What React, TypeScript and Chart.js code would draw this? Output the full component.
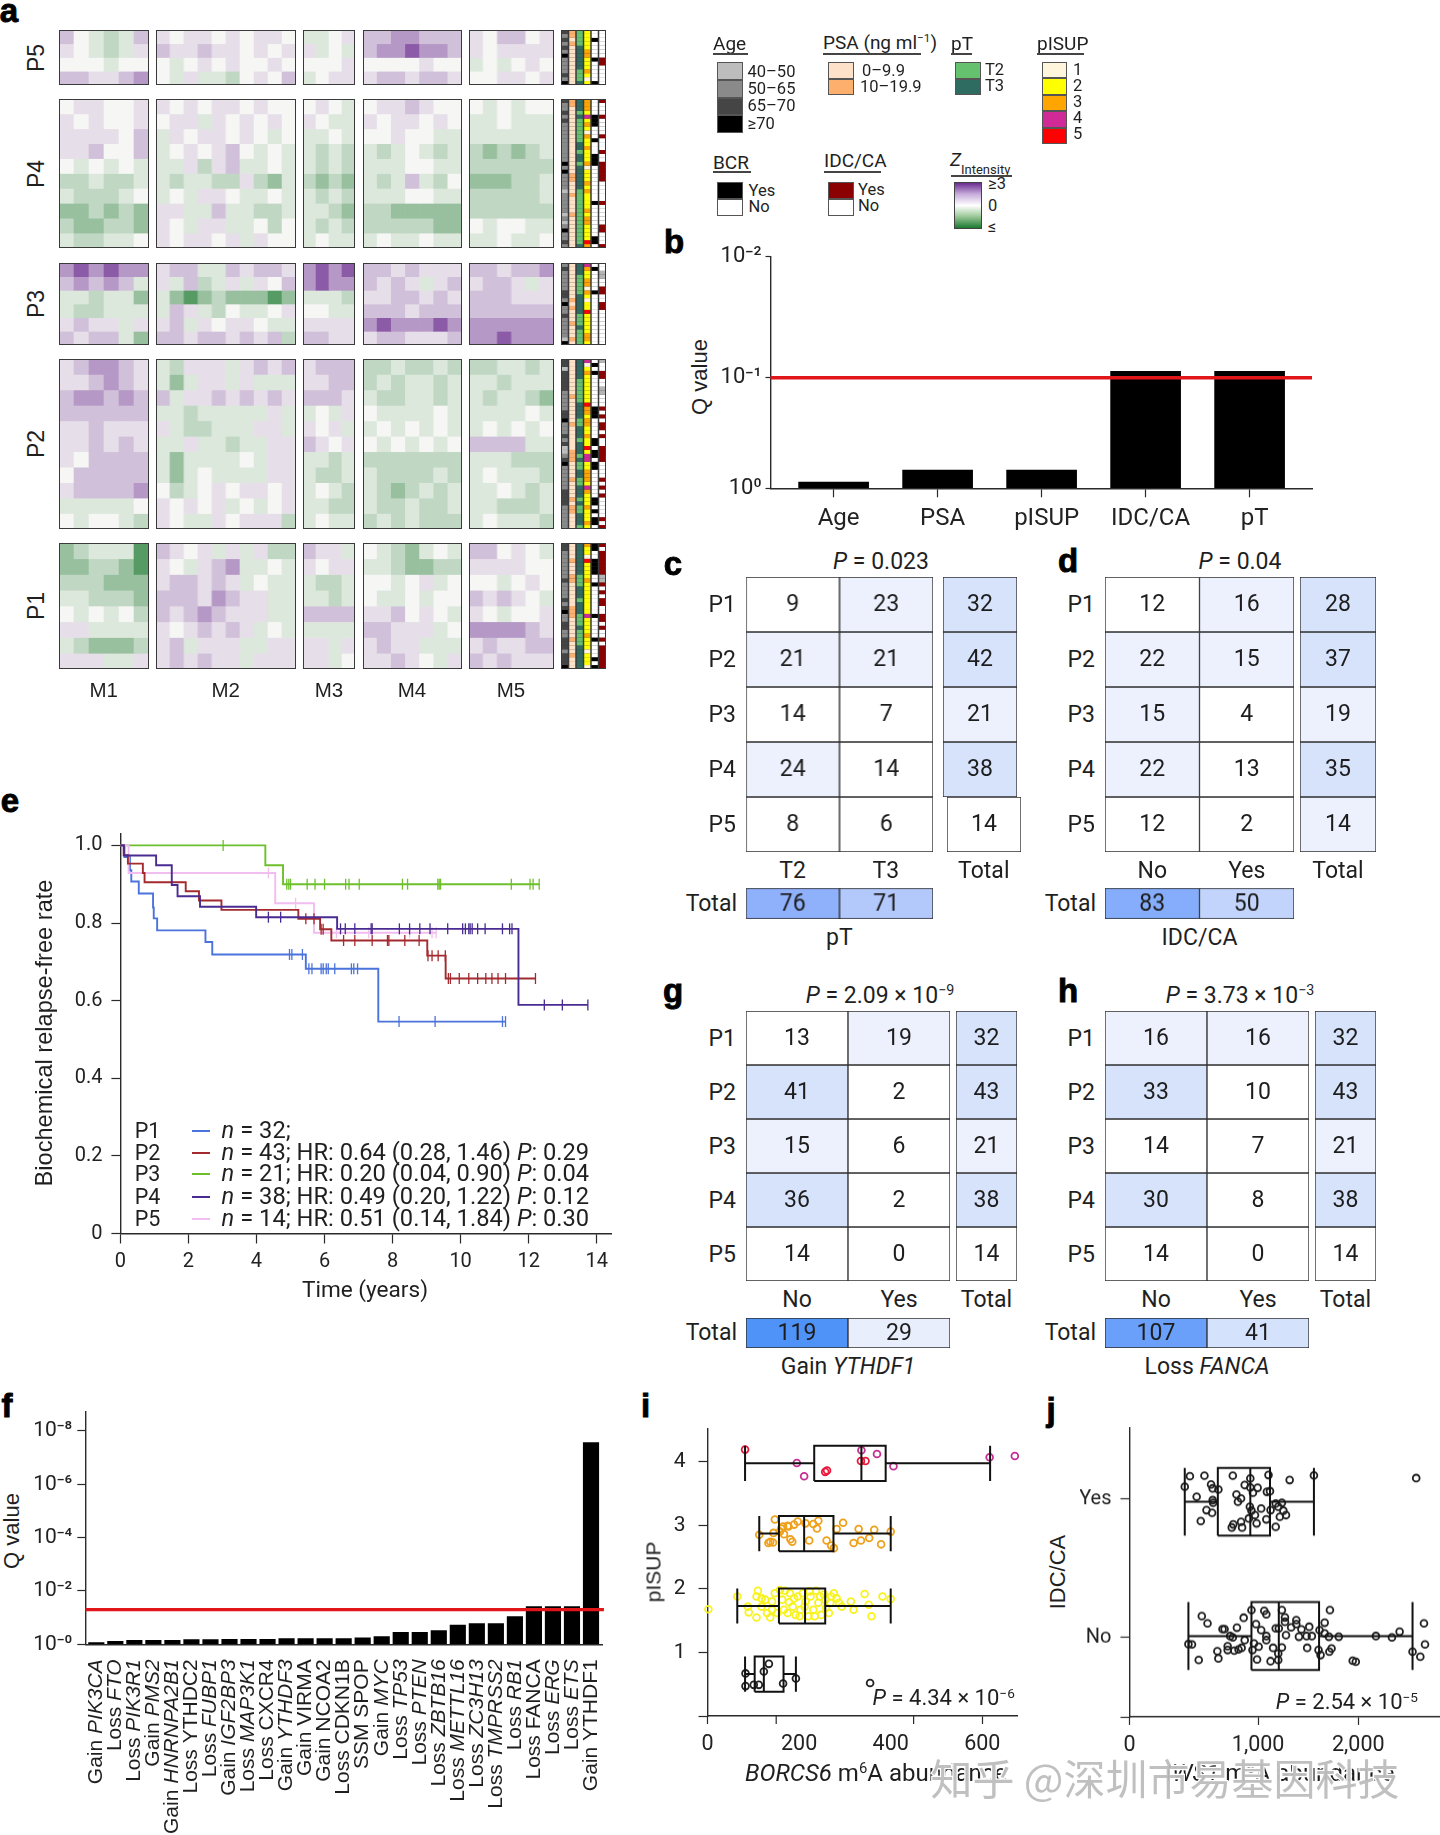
import React, { useEffect, useRef } from 'react';
import { Chart, registerables } from 'chart.js';
Chart.register(...registerables);

/* ---------- panel a: heat-map tones per block (rows by columns) ---------- */
const MODULES = ['M1', 'M2', 'M3', 'M4', 'M5'];
const Z_CODE: Record<string, number> = { p: 2.3, q: 1.4, r: 0.8, s: 0.35, '.': 0, t: -0.35, u: -0.75, v: -1.3, w: -2.2 };
const P5_M1 = ['r.tutr', 's.tuts', '...t..', 'rrssrq'];
const P5_M2 = ['s.ss.s.ss.', 'rssrss.s.s', '.t.s.s..s.', '.tsttu.s.r'];
const P5_M3 = ['tt.s', 'st.t', '...s', 't.ss'];
const P5_M4 = ['rrqqrrr', 'rqqpqqr', '....s..', 'srrsrrs'];
const P5_M5 = ['s.rr.s', 's.ssss', 't.t.s.', '..ss.s'];
const P4_M1 = ['.ss..s', 's.s..s', 'ssss.r', 'ssr..r', '.t.t.t', 'uutuut', 'tuuut.', 'vvuvuv', 'uvvuuv', 'tuutt.'];
const P4_M2 = ['s.s.ss.s..', '.ssts.s.s.', 'ts.ss.s.t.', 't.s.sr.t.t', 'ttsusrtt.t', 'tuttuusuvt', 't.tss.tt.t', 'ssttrttuut', 's.tsstt.u.', 's.ss.sts..'];
const P4_M3 = ['.s.t', 's.tt', 'tt.t', 'tutu', 'tutu', 'uvuv', 'tutu', 'ttuv', 'tutu', 't.tt'];
const P4_M4 = ['.ssrs..', 's.ss.s.', '..s..tt', 'tut.tut', 'ttt..tt', 'tutrtu.', 'ttt..tt', 'uuvvvvv', 'uuuuuvv', 't.tt.tt'];
const P4_M5 = ['.t.t..', 'tt.ttt', 'tttttt', 'uvuvut', 'uuuuuu', 'vvvuut', 'uuuuut', 'uuuuuu', '.t..tt', 'tt.tt.'];
const P3_M1 = ['qpqpqq', 'rqrqrt', 'ttuttv', 'tuuttt', 'srssts', 'rsrrtv'];
const P3_M2 = ['srrttrsrrs', 'strutsts.r', 'tvwvuvvvwv', 'trstu.tt.s', 'srts.ss.tt', 'rrsrrsrsru'];
const P3_M3 = ['qpqp', 'qpqq', 'tttu', '..tt', 'ssss', 'rrss'];
const P3_M4 = ['rrsrsss', 'rsrstsr', 'ssrrsrs', 'rrrsrrr', 'qpqqqpq', 'srrsssr'];
const P3_M5 = ['rrsrrq', 'srrsts', 'rrrsss', 'rrrrrr', 'qqqqqq', 'qqpqqq'];
const P2_M1 = ['srqqrs', 'ssrqrs', 'rqqrqr', 'rrrrrr', 'ssrsss', 'ssrsrs', 's.rrrr', '.rrrrr', 'srrrrq', 'ttttt.', '.t..tu'];
const P2_M2 = ['tussstsrsr', 'tvtsststtt', 'rtssrsrsrs', 'ttutttttst', 'stuutttsst', 'ttsttuttss', 'tvtttt.tss', 'tvt.ttttss', '.ut.s.ss.s', 's.s.st.t.s', 's.tts.sssu'];
const P2_M3 = ['srrr', 'ssrr', 'rrrs', 't.ts', 's.st', 'rs.s', 'ttut', 'tuut', 't.tu', 'ttuu', 't.tt'];
const P2_M4 = ['uutuutu', 'ututtut', 'tuuttut', '.tttt.t', 't.t.t.t', '.t.t.t.', 'uuuuuuu', 'tuuuutu', 'tuvutut', 'tuutuut', 'ututuuu'];
const P2_M5 = ['uuttut', 'ttuttt', 'tuttuv', 'tttt.t', 't.t.t.', 'rrrrtt', 'tttuuu', 't.tttu', 'tt.tut', 'ttuuut', 't.tttu'];
const P1_M1 = ['vutttw', 'vvuuvw', 'uuuvvv', 'ttuuuv', '.t.t.u', 'sstttt', 'tuvvvu', 'ssstts'];
const P1_M2 = ['rs.ststsuu', 's.tsrqtt.t', 'srrsrst.tt', 'rrrsqrsstt', 'rsrqrssstt', 's.srsrst.t', 'srtsssttss', 'srsrsstsss'];
const P1_M3 = ['rsst', 's.ss', 'tuut', 'ttut', 'rrrr', 'tttt', 'ssts', 'sst.'];
const P1_M4 = ['.tuvt.t', 'ttuvvuu', '..t.st.', '.tt.t..', 'ssr.s.t', 'rrssst.', 'srssttt', 'ssrs.ts'];
const P1_M5 = ['rr.s.t', 'ssss..', '..t.s.', 'rsrs.t', 's.t..s', 'qqqqrs', 'srssrr', 'rsrsss'];
const HEAT_P5 = [P5_M1, P5_M2, P5_M3, P5_M4, P5_M5];
const HEAT_P4 = [P4_M1, P4_M2, P4_M3, P4_M4, P4_M5];
const HEAT_P3 = [P3_M1, P3_M2, P3_M3, P3_M4, P3_M5];
const HEAT_P2 = [P2_M1, P2_M2, P2_M3, P2_M4, P2_M5];
const HEAT_P1 = [P1_M1, P1_M2, P1_M3, P1_M4, P1_M5];

/* annotation tracks, one character per patient: Age, PSA, pT, pISUP, BCR, IDC/CA */
const ANN_P5 = ['cbcbcbdbbbbcbd', '11010000000000', '22223333332223', '22222332223212', 'nnynnnnynnnnny', 'nnnnnnnyynnnnn'];
const ANN_P4 = ['cbbcbcbbbbbbbbbbdbdbbbbabbbbbababdbbcb', '11000000000000000001100010000100000000', '33323222222332332333333222222222222223', '33324232132232223122232322223233222253', 'nnnnyyynnnynnnyyynnnnnnnnnynnnnnnnnyyn', 'ynnnynnnnynnnynnyyyyynnnnnynnnnnyynnny'];
const ANN_P3 = ['bcbbbbbccbdbbcbbbbbad', '000000000101000100010', '333222223333322232222', '432233132122522222332', 'nynnnnnynnnnnnnnnnnnn', 'nnaannyynnyynnnnnnnnn'];
const ANN_P2 = ['ccacccccbbbbbccdbbbcbcaabcdbbbbbbccccbbbbbb', '0000000001000000100000011100001000010110000', '3333322222233332233323332322332233323223332', '4123222222253323322322524422333243222322232', 'nynynnnnnnnnyyynnnnnyynyynyynnnnnnnyynynyyn', 'annyynnaannnynynyynynnyyyynnnnynynynnnnnyny'];
const ANN_P1 = ['ccbbbbbbbcbbbbcbcdbbccbbcccbcccd', '00001000110000001110000010001000', '33333333222333233322232222333333', '32215222232222222242222322212221', 'yynnyyyynnynnnnnnnynnnnnynnnnyny', 'ynyyyyyyaaynynyynnyynynnynyyyyyy'];

/* ---------- panel b ---------- */
const B_CATS = ['Age', 'PSA', 'pISUP', 'IDC/CA', 'pT'];
const B_Q = [0.877, 0.684, 0.684, 0.0875, 0.0875];
const B_THRESHOLD = 0.1;
const B_TICKS = [1, 0.1, 0.00798];
const B_TICK_LABELS = ['10⁰', '10⁻¹', '10⁻²'];

/* ---------- contingency tables ---------- */
const ROWS_P = ['P1', 'P2', 'P3', 'P4', 'P5'];
const C_VALUES = [[9, 23], [21, 21], [14, 7], [24, 14], [8, 6]];
const C_TOTALS = [32, 42, 21, 38, 14];
const C_BOTTOM = [76, 71];
const C_COLS = ['T2', 'T3'];
const D_VALUES = [[12, 16], [22, 15], [15, 4], [22, 13], [12, 2]];
const D_TOTALS = [28, 37, 19, 35, 14];
const D_BOTTOM = [83, 50];
const D_COLS = ['No', 'Yes'];
const G_VALUES = [[13, 19], [41, 2], [15, 6], [36, 2], [14, 0]];
const G_TOTALS = [32, 43, 21, 38, 14];
const G_BOTTOM = [119, 29];
const H_VALUES = [[16, 16], [33, 10], [14, 7], [30, 8], [14, 0]];
const H_TOTALS = [32, 43, 21, 38, 14];
const H_BOTTOM = [107, 41];
const YESNO = ['No', 'Yes'];

/* ---------- panel e: Kaplan-Meier steps [time, survival] and censor marks ---------- */
const KM_P1 = [[0, 1], [0.12, 0.97], [0.28, 0.936], [0.32, 0.907], [0.54, 0.876], [0.96, 0.84], [0.98, 0.812], [1.08, 0.781], [2.5, 0.751], [2.7, 0.719], [5.45, 0.682], [7.58, 0.546], [11.32, 0.546]];
const KM_P2 = [[0, 1], [0.1, 0.975], [0.22, 0.953], [0.66, 0.929], [0.71, 0.905], [1.92, 0.882], [2.31, 0.858], [2.97, 0.834], [5.23, 0.811], [5.87, 0.784], [6.2, 0.755], [9.02, 0.716], [9.56, 0.657], [12.2, 0.657]];
const KM_P3 = [[0, 1], [4.26, 0.949], [4.78, 0.9], [12.31, 0.9]];
const KM_P4 = [[0, 1], [0.1, 0.974], [1.05, 0.949], [1.51, 0.898], [1.68, 0.869], [2.34, 0.842], [3.99, 0.815], [6.37, 0.785], [11.7, 0.589], [13.74, 0.589]];
const KM_P5 = [[0, 1], [0.24, 0.929], [4.55, 0.851], [5.69, 0.775], [9.28, 0.775]];
const CENS_P1: [number, number[]][] = [[0.719, [4.97, 5.04, 5.35]], [0.682, [5.54, 5.63, 5.9, 5.96, 6.05, 6.11, 6.3, 6.79, 6.86, 6.97]], [0.546, [8.19, 9.25, 11.23, 11.32]]];
const CENS_P2: [number, number[]][] = [[0.811, [5.45, 5.69]], [0.784, [5.9, 5.96]], [0.755, [6.56, 6.89, 7.4, 7.85, 7.89, 8.36, 8.78]], [0.716, [9.04, 9.16, 9.34, 9.55]], [0.657, [9.64, 9.7, 9.96, 10.24, 10.5, 10.74, 10.92, 11.1, 11.32, 12.2]]];
const CENS_P3: [number, number[]][] = [[1, [3.02]], [0.9, [4.89, 4.95, 5.0, 5.49, 5.72, 6.0, 6.62, 6.72, 7.02, 8.29, 8.44, 9.33, 9.37, 9.41, 11.49, 12.04, 12.13, 12.31]]];
const CENS_P4: [number, number[]][] = [[0.815, [4.35, 4.71]], [0.785, [6.47, 6.61, 6.89, 7.37, 7.4, 8.2, 8.5, 8.8, 9.1, 9.62, 10.06, 10.14, 10.24, 10.28, 10.34, 10.5, 10.72, 11.23, 11.44, 11.51]], [0.589, [12.46, 12.99, 13.74]]];
const CENS_P5: [number, number[]][] = [[0.929, [4.35]], [0.851, [5.15]], [0.775, [6.35, 7.3, 8.5, 9.16, 9.28]]];
const E_LEGEND = ['P1', 'P2', 'P3', 'P4', 'P5'];
const E_LEGEND_N = ['= 32;', '= 43; HR: 0.64 (0.28, 1.46) ', '= 21; HR: 0.20 (0.04, 0.90) ', '= 38; HR: 0.49 (0.20, 1.22) ', '= 14; HR: 0.51 (0.14, 1.84) '];
const E_LEGEND_P = ['', ': 0.29', ': 0.04', ': 0.12', ': 0.30'];

/* ---------- panel f ---------- */
const F_PREFIX = ['Gain', 'Loss', 'Loss', 'Gain', 'Gain', 'Loss', 'Loss', 'Gain', 'Loss', 'Loss', 'Gain', 'Gain', 'Gain', 'Loss', 'SSM', 'Gain', 'Loss', 'Loss', 'Loss', 'Loss', 'Loss', 'Loss', 'Loss', 'Loss', 'Loss', 'Loss', 'Gain'];
const F_GENES = ['PIK3CA', 'FTO', 'PIK3R1', 'PMS2', 'HNRNPA2B1', 'YTHDC2', 'FUBP1', 'IGF2BP3', 'MAP3K1', 'CXCR4', 'YTHDF3', 'VIRMA', 'NCOA2', 'CDKN1B', 'SPOP', 'MYC', 'TP53', 'PTEN', 'ZBTB16', 'METTL16', 'ZC3H13', 'TMPRSS2', 'RB1', 'FANCA', 'ERG', 'ETS', 'YTHDF1'];
const F_UPRIGHT = ['YTHDC2', 'CXCR4', 'VIRMA', 'NCOA2', 'CDKN1B', 'SPOP', 'FANCA', 'YTHDF1'];
const F_MINUS_LOG_Q = [0.06, 0.11, 0.15, 0.15, 0.15, 0.18, 0.18, 0.19, 0.19, 0.19, 0.21, 0.21, 0.21, 0.21, 0.24, 0.29, 0.45, 0.45, 0.51, 0.72, 0.78, 0.78, 1.04, 1.41, 1.41, 1.41, 7.56];
const F_THRESHOLD = 0.05;
const F_TICKS = [1, 1e-2, 1e-4, 1e-6, 1e-8];
const F_TICK_LABELS = ['10⁻⁰', '10⁻²', '10⁻⁴', '10⁻⁶', '10⁻⁸'];

/* ---------- panel i: [min, q1, median, q3, max, centre] and points ---------- */
const I_BOX_1 = [82, 103, 123, 166, 193, 0.66];
const I_BOX_2 = [65, 156, 213, 257, 400, 1.73];
const I_BOX_3 = [113, 156, 211, 275, 400, 2.87];
const I_BOX_4 = [82, 233, 336, 389, 617, 3.974];
const I_GRADE1 = [[83, .67], [83, .47], [101, .49], [112, .49], [123, .70], [134, .82], [165, .51], [193, .59], [355, .52]];
const I_GRADE2 = [[2, 1.68], [65, 1.88], [90, 1.63], [88, 1.72], [107, 1.55], [110, 1.97], [107, 1.88], [118, 1.72], [126, 1.83], [137, 1.55], [141, 1.80], [147, 1.93], [152, 1.62], [163, 1.83], [169, 1.97], [175, 1.62], [180, 1.93], [186, 1.72], [192, 1.59], [197, 1.88], [203, 1.67], [208, 1.93], [214, 1.80], [220, 1.57], [225, 1.88], [231, 1.67], [237, 1.97], [242, 1.78], [248, 1.59], [254, 1.91], [259, 1.70], [265, 1.62], [270, 1.88], [276, 1.93], [282, 1.85], [287, 1.78], [293, 1.72], [313, 1.80], [319, 1.67], [343, 1.92], [352, 1.75], [358, 1.57], [382, 1.88], [400, 1.84], [118, 1.85], [130, 1.62], [141, 1.67], [158, 1.98], [167, 1.67], [178, 1.79], [189, 1.85], [201, 1.57], [212, 1.72], [223, 1.96], [234, 1.57], [246, 1.88], [257, 1.83], [268, 1.78]];
const I_GRADE3 = [[113, 2.85], [133, 2.72], [143, 2.73], [144, 2.88], [147, 3.09], [165, 2.98], [167, 2.86], [175, 2.99], [181, 2.78], [185, 2.74], [189, 3.01], [197, 3.06], [214, 3.03], [222, 2.76], [231, 3.02], [239, 2.95], [242, 3.07], [260, 2.76], [270, 2.68], [276, 2.64], [282, 2.94], [296, 3.04], [319, 2.72], [330, 2.94], [335, 2.76], [353, 2.80], [364, 2.93], [379, 2.70], [400, 2.90], [158, 2.90], [161, 2.95], [177, 2.98], [137, 2.74]];
const I_GRADE4 = [[336, 4.18], [370, 4.12], [195, 3.98], [211, 3.77], [406, 3.93], [616, 4.07], [671, 4.09]];
const I_GRADE5 = [[82, 4.19], [257, 3.84], [261, 3.86], [335, 4.01], [345, 4.01]];

/* ---------- panel j ---------- */
const J_BOX_YES = [483, 772, 1056, 1228, 1612, 0.978];
const J_BOX_NO = [515, 1066, 1305, 1657, 2474, 0.01];
const J_YES = [[483, 1.087], [528, 1.163], [655, 1.166], [713, 1.103], [727, 1.075], [777, 1.067], [587, 1.014], [727, .990], [731, .971], [673, .918], [722, .899], [623, .839], [903, 1.166], [1056, 1.147], [1215, 1.171], [1400, 1.135], [1612, 1.168], [2506, 1.149], [1007, 1.099], [1056, 1.082], [1120, 1.079], [1079, 1.043], [1201, 1.050], [1228, 1.055], [935, 1.031], [975, 1.002], [948, .978], [1151, .930], [1052, .942], [1066, .914], [1097, .882], [1043, .858], [1196, .851], [1111, .822], [907, .815], [894, .793], [975, .834], [984, .793], [1278, .798], [1278, .966], [1332, .971], [1300, .942], [1233, .918], [1345, .914], [1314, .870], [1368, .882]];
const J_NO = [[515, -.048], [546, -.05], [605, -.163], [632, .154], [682, .101], [768, -.099], [777, -.151], [813, .06], [831, .06], [858, -.063], [858, -.091], [880, .01], [903, 0], [939, .07], [916, -.096], [953, -.087], [980, -.075], [998, .142], [1007, -.019], [1066, .197], [1088, -.043], [1075, -.091], [1106, .096], [1129, -.067], [1115, -.159], [1178, .192], [1196, .166], [1151, .053], [1196, .01], [1196, -.019], [1255, -.075], [1233, -.171], [1300, -.163], [1278, .065], [1305, .065], [1332, .197], [1359, .144], [1359, .113], [1458, .125], [1458, .096], [1332, -.072], [1300, -.115], [1368, .017], [1413, .072], [1481, .005], [1503, .058], [1548, .01], [1571, .077], [1594, .01], [1553, -.075], [1661, .053], [1652, -.091], [1670, -.127], [1706, .106], [1752, .197], [1706, .029], [1743, .005], [1829, .005], [1766, -.079], [1747, -.103], [1951, -.168], [1978, -.175], [2154, .01], [2294, 0], [2361, .041], [2474, -.103], [2542, -.139], [2574, .101], [2583, -.05]];

/* ---------- styles ---------- */
const INK = '#2a2a2a';
const SANS = '"Liberation Sans", Arial, sans-serif';
const ROBOTO = 'Roboto, "Liberation Sans", sans-serif';
const RED_LINE = '#e0161b';
const KM_COLORS = { p1: '#4b73dc', p2: '#a32a2e', p3: '#6cc02c', p4: '#4a2b92', p5: '#f2bdf0' };
const TRACK_COLORS: Record<string, string>[] = [
  { a: '#bdbdbd', b: '#8a8a8a', c: '#454545', d: '#000000' },
  { '0': '#fde2c9', '1': '#fdb06e' },
  { '2': '#66c16f', '3': '#2e6b60' },
  { '1': '#fff5dd', '2': '#ffff00', '3': '#ffa500', '4': '#cf2a96', '5': '#ff0000' },
  { y: '#000000', n: '#ffffff' },
  { y: '#8b0000', n: '#ffffff', a: '#b5b5b5' },
];
const TABLE_TONES = ['#ffffff', '#edf1fd', '#d7e3fb'];

const lerpHex = (a: number[], b: number[], t: number) => `rgb(${a.map((v, i) => Math.round(v + (b[i] - v) * t)).join(',')})`;
const zColor = (z: number) => (z >= 0 ? lerpHex([246, 246, 244], [106, 44, 145], z / 3) : lerpHex([246, 246, 244], [29, 122, 48], -z / 3));

const tableTone = (v: number, levels: number[]) => {
  if (v >= levels[1]) return TABLE_TONES[2];
  if (v >= levels[0]) return TABLE_TONES[1];
  return TABLE_TONES[0];
};

function matrixConfig(colors: string[][], opts: any = {}) {
  const nCols = colors[0].length;
  const plugins: any[] = [];
  if (opts.values) {
    plugins.push({
      id: 'cellText',
      afterDatasetsDraw(chart: any) {
        const c = chart.ctx;
        c.save();
        c.fillStyle = '#1d1d1d';
        c.font = `23px ${ROBOTO}`;
        c.textAlign = 'center';
        c.textBaseline = 'middle';
        opts.values.forEach((row: number[], r: number) => {
          const meta = chart.getDatasetMeta(r);
          row.forEach((v: number, k: number) => {
            const el = meta.data[k];
            c.fillText(String(v), el.x, (el.y + el.base) / 2 + 1);
          });
        });
        c.restore();
      },
    });
  }
  return {
    type: 'bar',
    data: {
      labels: Array.from({ length: nCols }, (_, i) => String(i)),
      datasets: colors.map((row) => ({
        data: row.map(() => 1),
        backgroundColor: row,
        borderColor: opts.border || 'transparent',
        borderWidth: opts.border ? 1 : 0,
        borderSkipped: false,
        barPercentage: opts.barPct ?? 1,
        categoryPercentage: 1,
      })),
    },
    options: {
      layout: { padding: opts.pad ?? 0 },
      scales: {
        x: { stacked: true, display: false },
        y: { stacked: true, display: false, reverse: true, min: 0, max: colors.length },
      },
    },
    plugins,
  };
}

function axis(o: any) {
  const horizontal = o.position === 'bottom';
  return {
    type: o.type || 'linear',
    position: o.position,
    min: o.min,
    max: o.max,
    reverse: !!o.reverse,
    offset: false,
    afterBuildTicks: (s: any) => { s.ticks = o.ticks.map((value: number) => ({ value })); },
    afterFit: (s: any) => {
      if (horizontal) s.height = o.size; else s.width = o.size;
      s.paddingTop = 0; s.paddingBottom = 0; s.paddingLeft = 0; s.paddingRight = 0;
    },
    grid: {
      offset: false,
      drawOnChartArea: false,
      drawTicks: o.drawTicks !== false,
      tickLength: o.tickLength ?? 9,
      tickColor: o.tickColor || INK,
      tickWidth: 1.2,
    },
    border: { display: true, color: INK, width: 1.4 },
    ticks: {
      display: o.showLabels !== false,
      autoSkip: false,
      maxRotation: 0,
      minRotation: 0,
      padding: o.padding ?? 6,
      labelOffset: o.labelOffset ?? 0,
      color: '#222',
      font: { family: ROBOTO, size: o.fontSize ?? 20 },
      callback: (_: any, i: number) => (o.labels ? o.labels[i] : ''),
    },
  };
}

function boxLine(b: number[], half: number) {
  const [lo, q1, med, q3, hi, cy] = b;
  const gap = { x: NaN, y: NaN };
  const p = (x: number, y: number) => ({ x, y });
  return [
    p(lo, cy - half), p(lo, cy + half), gap,
    p(lo, cy), p(q1, cy), gap,
    p(q3, cy), p(hi, cy), gap,
    p(hi, cy - half), p(hi, cy + half), gap,
    p(q1, cy - half), p(q3, cy - half), p(q3, cy + half), p(q1, cy + half), p(q1, cy - half), gap,
    p(med, cy - half), p(med, cy + half),
  ];
}
const boxDataset = (b: number[], half: number) => ({
  data: boxLine(b, half), showLine: true, pointRadius: 0, borderColor: '#111', borderWidth: 2, spanGaps: false, clip: false,
});
const dots = (pts: number[][], color: string) => ({
  data: pts.map(([x, y]) => ({ x, y })), showLine: false, pointRadius: 3.4, pointBorderWidth: 1.8,
  pointBorderColor: color, pointBackgroundColor: 'transparent', clip: false,
});

function kmSets(steps: number[][], cens: [number, number[]][], color: string, order: number) {
  return [
    { type: 'line', data: steps.map(([x, y]) => ({ x, y })), stepped: 'before', borderColor: color, borderWidth: 1.9, pointRadius: 0, order, clip: false },
    {
      type: 'scatter',
      data: cens.flatMap(([y, ts]) => ts.map((x) => ({ x, y }))),
      pointStyle: 'line', rotation: 90, pointRadius: 5.5, pointBorderColor: color, pointBorderWidth: 1.3, order, clip: false,
    },
  ];
}

function ChartBox({ x, y, w, h, config, bg, outline }: any) {
  const ref = useRef<HTMLCanvasElement>(null);
  useEffect(() => {
    const base = config.options || {};
    const chart = new Chart(ref.current as any, {
      ...config,
      options: {
        ...base,
        responsive: false,
        animation: false,
        events: [],
        layout: { autoPadding: false, ...(base.layout || {}) },
        plugins: { legend: { display: false }, tooltip: { enabled: false }, ...(base.plugins || {}) },
      },
    } as any);
    return () => chart.destroy();
  }, []);
  return (
    <canvas
      ref={ref}
      width={w}
      height={h}
      style={{ position: 'absolute', left: x, top: y, width: w, height: h, display: 'block', background: bg, outline: outline ? `1.5px solid ${outline}` : undefined, outlineOffset: outline ? -1 : undefined }}
    />
  );
}

function T({ x, y, a = 'c', size = 23, rot = 0, font = ROBOTO, weight = 400, color = '#1f1f1f', children, extra }: any) {
  const tx = a === 'c' ? '-50%' : a === 'r' ? '-100%' : '0';
  return (
    <div style={{
      position: 'absolute', left: x, top: y, fontFamily: font, fontSize: size, fontWeight: weight, color, lineHeight: 1,
      whiteSpace: 'nowrap', transform: `translate(${tx}, -50%) rotate(${rot}deg)`, ...extra,
    }}>{children}</div>
  );
}

const Sup = ({ children }: any) => <sup style={{ fontSize: '0.62em', lineHeight: 0, verticalAlign: '0.55em' }}>{children}</sup>;
const Sq = ({ x, y, w, h, c }: any) => <div style={{ position: 'absolute', left: x, top: y, width: w, height: h, background: c, boxSizing: 'border-box', border: '1px solid #555' }} />;
const Line = ({ x0, x1, y, c = '#444', t = 1.5 }: any) => <div style={{ position: 'absolute', left: x0, top: y, width: x1 - x0, height: t, background: c }} />;
const Letter = ({ x, y, children }: any) => <T x={x} y={y} size={33} font={SANS} weight={700} color="#000" extra={{ WebkitTextStroke: '0.9px #000' }}>{children}</T>;

function Table({ L, values, totals, bottom, bottomColors, cols, under, title, titleX, tones, totalTones, lastShift = 0 }: any) {
  const [x0, x1, tx0, tx1, y0, y1, by0, by1] = L;
  const rowH = (y1 - y0) / 5;
  const cw = (x1 - x0) / 2;
  const cellColors = values.map((r: number[]) => r.map((v) => tableTone(v, tones)));
  const totColors = totals.map((v: number) => [tableTone(v, totalTones)]);
  const pad = 1;
  const box = (a: number, b: number, c: number, d: number, cfg: any) => <ChartBox x={a - pad} y={c - pad} w={b - a + 2 * pad} h={d - c + 2 * pad} config={cfg} />;
  const mx = { border: '#2f2f2f', pad };
  return (
    <>
      {box(x0, x1, y0, y1, matrixConfig(cellColors, { ...mx, values }))}
      {lastShift
        ? <>
          {box(tx0, tx1, y0, y0 + 4 * rowH, matrixConfig(totColors.slice(0, 4), { ...mx, values: totals.slice(0, 4).map((v: number) => [v]) }))}
          {box(tx0 + lastShift, tx1 + lastShift, y0 + 4 * rowH, y1, matrixConfig(totColors.slice(4), { ...mx, values: [[totals[4]]] }))}
        </>
        : box(tx0, tx1, y0, y1, matrixConfig(totColors, { ...mx, values: totals.map((v: number) => [v]) }))}
      {box(x0, x1, by0, by1, matrixConfig([bottomColors], { ...mx, values: [bottom] }))}
      {ROWS_P.map((p, i) => <T key={p} x={x0 - 10} y={y0 + rowH * (i + 0.5)} a="r">{p}</T>)}
      {cols.map((c: string, i: number) => <T key={c} x={x0 + cw * (i + 0.5)} y={y1 + 18}>{c}</T>)}
      <T x={(tx0 + tx1) / 2 + lastShift} y={y1 + 18}>Total</T>
      <T x={x0 - 9} y={(by0 + by1) / 2 - 1} a="r">Total</T>
      <T x={(x0 + x1) / 2} y={by1 + 18}>{under}</T>
      <T x={titleX} y={y0 - 16}>{title}</T>
    </>
  );
}

const HEAT_GROUPS = [
  { name: 'P5', heat: HEAT_P5, ann: ANN_P5, y: [30, 85] },
  { name: 'P4', heat: HEAT_P4, ann: ANN_P4, y: [99, 248] },
  { name: 'P3', heat: HEAT_P3, ann: ANN_P3, y: [263, 345] },
  { name: 'P2', heat: HEAT_P2, ann: ANN_P2, y: [359, 529] },
  { name: 'P1', heat: HEAT_P1, ann: ANN_P1, y: [543, 669] },
];
const MODULE_X = [[59, 149], [156, 295.5], [303, 355], [363, 462], [469, 553.5]];

function Heatmaps() {
  return (
    <>
      {HEAT_GROUPS.map((g) => (
        <React.Fragment key={g.name}>
          <T x={36} y={(g.y[0] + g.y[1]) / 2} rot={-90} size={23} font={SANS}>{g.name}</T>
          {g.heat.map((rows, m) => {
            const colors = rows.map((r) => r.split('').map((ch) => zColor(Z_CODE[ch])));
            return <ChartBox key={m} x={MODULE_X[m][0]} y={g.y[0]} w={MODULE_X[m][1] - MODULE_X[m][0]} h={g.y[1] - g.y[0]} config={matrixConfig(colors)} outline="#3a3a3a" />;
          })}
          {(() => {
            const n = g.ann[0].length;
            const colors = Array.from({ length: n }, (_, r) => g.ann.map((track, k) => TRACK_COLORS[k][track[r]] || '#ffffff'));
            return <ChartBox x={561} y={g.y[0]} w={45} h={g.y[1] - g.y[0]} config={matrixConfig(colors, { barPct: 0.8 })} bg="#3a3a3a" outline="#3a3a3a" />;
          })()}
        </React.Fragment>
      ))}
      {MODULES.map((m, i) => <T key={m} x={[103.7, 225.7, 329, 412, 511][i]} y={690} size={20.5} font={SANS}>{m}</T>)}
    </>
  );
}

function Legends() {
  const title = (x: number, y: number, s: any, x1: number, uy: number) => (
    <>
      <T x={x} y={y} a="l" size={19}>{s}</T>
      <Line x0={x} x1={x1} y={uy} />
    </>
  );
  const lab = (x: number, y: number, s: string) => <T x={x} y={y} a="l" size={16.5}>{s}</T>;
  return (
    <>
      {title(713, 43, 'Age', 748, 53)}
      {[['#bdbdbd', '40–50'], ['#8a8a8a', '50–65'], ['#454545', '65–70'], ['#000', '≥70']].map(([c, s], i) => (
        <React.Fragment key={s}><Sq x={717} y={62 + i * 17.8} w={26} h={17.8} c={c} />{lab(747.5, [72, 89, 106, 124][i], s)}</React.Fragment>
      ))}
      {title(823, 42, <>PSA (ng ml<Sup>−1</Sup>)</>, 921, 53)}
      <Sq x={828} y={62} w={26} h={16.5} c="#fde2c9" /><Sq x={828} y={78.5} w={26} h={16.5} c="#fdb06e" />
      {lab(862, 71, '0–9.9')}{lab(860, 87, '10–19.9')}
      {title(951, 43, 'pT', 972, 53)}
      <Sq x={954.5} y={62} w={26} h={16.5} c="#66c16f" /><Sq x={954.5} y={78.5} w={26} h={16.5} c="#2e6b60" />
      {lab(985, 70, 'T2')}{lab(985, 86, 'T3')}
      {title(1037, 43, 'pISUP', 1084, 53)}
      {['#fff5dd', '#ffff00', '#ffa500', '#cf2a96', '#ff0000'].map((c, i) => (
        <React.Fragment key={c}><Sq x={1041.5} y={62 + i * 16.4} w={25} h={16.4} c={c} />{lab(1073, 70 + i * 16, String(i + 1))}</React.Fragment>
      ))}
      {title(713, 162, 'BCR', 751, 171)}
      <Sq x={717} y={182} w={26} h={17} c="#000" /><Sq x={717} y={199} w={26} h={16.5} c="#fff" />
      {lab(748.5, 191, 'Yes')}{lab(748.5, 207, 'No')}
      {title(824, 160, 'IDC/CA', 881, 171)}
      <Sq x={828} y={182} w={26} h={17} c="#8b0000" /><Sq x={828} y={199} w={26} h={16.5} c="#fff" />
      {lab(858, 190, 'Yes')}{lab(858, 206, 'No')}
      <T x={950} y={159} a="l" size={19}><i>Z</i></T>
      <T x={961} y={169} a="l" size={13}>Intensity</T>
      <Line x0={951} x1={1012} y={175} />
      <div style={{ position: 'absolute', left: 954, top: 182, width: 28, height: 47, boxSizing: 'border-box', border: '1px solid #444', background: 'linear-gradient(#6a2c91, #c8aedb 25%, #ffffff 50%, #a5cfa2 72%, #1d7a30)' }} />
      {lab(988, 183.5, '≥3')}{lab(988, 206, '0')}{lab(988, 227, '≤')}
    </>
  );
}

const bConfig = {
  type: 'bar',
  data: {
    datasets: [
      { type: 'line', data: [{ x: -0.607, y: B_THRESHOLD }, { x: 4.6, y: B_THRESHOLD }], borderColor: RED_LINE, borderWidth: 3.4, pointRadius: 0, order: 0, clip: false },
      { type: 'bar', data: B_Q.map((y, x) => ({ x, y })), backgroundColor: '#000', barThickness: 70, base: 1, order: 1 },
    ],
  },
  options: {
    layout: { padding: { top: 11.5, right: 8 } },
    scales: {
      x: axis({ position: 'bottom', min: -0.607, max: 4.6, ticks: B_CATS.map((_, i) => i), labels: B_CATS, size: 46.7, fontSize: 24, tickLength: 9, padding: 7, labelOffset: 5 }),
      y: axis({ type: 'logarithmic', reverse: true, position: 'left', min: B_TICKS[2], max: 1, ticks: B_TICKS, labels: B_TICK_LABELS, size: 50.5, fontSize: 22, tickLength: 5, padding: 4 }),
    },
  },
};

const kmOrder = [
  kmSets(KM_P4, CENS_P4, KM_COLORS.p4, 1),
  kmSets(KM_P2, CENS_P2, KM_COLORS.p2, 2),
  kmSets(KM_P5, CENS_P5, KM_COLORS.p5, 3),
  kmSets(KM_P1, CENS_P1, KM_COLORS.p1, 4),
  kmSets(KM_P3, CENS_P3, KM_COLORS.p3, 5),
];
const eConfig = {
  type: 'scatter',
  data: { datasets: kmOrder.flat() },
  options: {
    layout: { padding: { top: 14, right: 9 } },
    scales: {
      x: axis({ position: 'bottom', min: 0, max: 14.42, ticks: [0, 2, 4, 6, 8, 10, 12, 14], labels: ['0', '2', '4', '6', '8', '10', '12', '14'], size: 46.5, tickLength: 10, padding: 6 }),
      y: axis({ position: 'left', min: 0, max: 1.0294, ticks: [0, 0.2, 0.4, 0.6, 0.8, 1], labels: ['0', '0.2', '0.4', '0.6', '0.8', '1.0'], size: 50.4, tickLength: 9, padding: 9 }),
    },
  },
};

const fLabelsPlugin = {
  id: 'fLabels',
  afterDraw(chart: any) {
    const c = chart.ctx;
    const xs = chart.scales.x;
    const yEnd = chart.chartArea.bottom + 15;
    c.save();
    c.fillStyle = '#1f1f1f';
    F_GENES.forEach((g, i) => {
      const px = xs.getPixelForValue(i);
      const italic = F_UPRIGHT.indexOf(g) < 0;
      c.save();
      c.translate(px, yEnd);
      c.rotate(-Math.PI / 2);
      c.textBaseline = 'middle';
      c.textAlign = 'right';
      c.font = `${italic ? 'italic ' : ''}21px ${SANS}`;
      c.fillText(g, 0, 0);
      const gw = c.measureText(g).width;
      c.font = `21px ${SANS}`;
      c.fillText(`${F_PREFIX[i]} `, -gw, 0);
      c.restore();
    });
    c.restore();
  },
};
const fConfig = {
  type: 'bar',
  data: {
    datasets: [
      { type: 'line', data: [{ x: -0.578, y: F_THRESHOLD }, { x: 26.68, y: F_THRESHOLD }], borderColor: RED_LINE, borderWidth: 3.2, pointRadius: 0, order: 0, clip: false },
      { type: 'bar', data: F_MINUS_LOG_Q.map((v, x) => ({ x, y: 10 ** -v })), backgroundColor: '#000', barThickness: 15.5, base: 1, order: 1 },
    ],
  },
  options: {
    layout: { padding: { top: 11.7, right: 18 } },
    scales: {
      x: axis({ position: 'bottom', min: -0.578, max: 26.578, ticks: F_GENES.map((_, i) => i), size: 190.7, drawTicks: false, showLabels: false }),
      y: axis({ type: 'logarithmic', reverse: true, position: 'left', min: 10 ** -8.72, max: 1, ticks: F_TICKS, labels: F_TICK_LABELS, size: 55.3, fontSize: 21, tickLength: 8, padding: 5 }),
    },
  },
  plugins: [fLabelsPlugin],
};

const iExtraTicks = {
  id: 'iExtraTicks',
  afterDraw(chart: any) {
    const c = chart.ctx;
    const s = chart.scales.x;
    c.save();
    c.strokeStyle = INK;
    c.lineWidth = 1.2;
    [150, 450].forEach((v) => {
      const px = s.getPixelForValue(v);
      c.beginPath();
      c.moveTo(px, chart.chartArea.bottom);
      c.lineTo(px, chart.chartArea.bottom + 8);
      c.stroke();
    });
    c.restore();
  },
};
const iXAxis: any = axis({ position: 'bottom', min: 0, max: 676.6, ticks: [0, 200, 400, 600], labels: ['0', '200', '400', '600'], size: 48, fontSize: 21.5, tickLength: 8, padding: 8 });
iXAxis.grid.tickColor = (ctx: any) => (ctx.tick && (ctx.tick.value === 200 || ctx.tick.value === 400) ? 'transparent' : INK);
const iConfig = {
  type: 'scatter',
  data: {
    datasets: [
      boxDataset(I_BOX_4, 0.277), boxDataset(I_BOX_3, 0.277), boxDataset(I_BOX_2, 0.277), boxDataset(I_BOX_1, 0.277),
      dots(I_GRADE5, '#e8193a'), dots(I_GRADE4, '#c62f93'), dots(I_GRADE1, '#222222'), dots(I_GRADE3, '#eea11c'), dots(I_GRADE2, '#f8f21e'),
    ],
  },
  options: {
    layout: { padding: { top: 8.3, right: 2.6 } },
    scales: {
      x: iXAxis,
      y: axis({ position: 'left', min: 0, max: 4.525, ticks: [0, 1, 2, 3, 4], labels: ['', '1', '2', '3', '4'], size: 47.5, fontSize: 21, tickLength: 9, padding: 13 }),
    },
  },
  plugins: [iExtraTicks],
};

const jConfig = {
  type: 'scatter',
  data: {
    datasets: [
      boxDataset(J_BOX_YES, 0.244), boxDataset(J_BOX_NO, 0.245),
      dots(J_YES, '#1e1e1e'), dots(J_NO, '#1e1e1e'),
    ],
  },
  options: {
    layout: { padding: { top: 8, right: 0 } },
    scales: {
      x: axis({ position: 'bottom', min: 0, max: 2714, ticks: [0, 1124, 2000], labels: ['0', '1,000', '2,000'], size: 48, fontSize: 21.5, tickLength: 8, padding: 8 }),
      y: axis({ position: 'left', min: -0.573, max: 1.51, ticks: [-0.573, 0, 1], labels: ['', 'No', 'Yes'], size: 49.5, fontSize: 20, tickLength: 9, padding: 9 }),
    },
  },
};

export default function App() {
  return (
    <div style={{ position: 'absolute', left: 0, top: 0, width: 1440, height: 1835, background: '#fff', overflow: 'hidden' }}>
      <Heatmaps />
      <Legends />
      <Letter x={9} y={10}>a</Letter>
      <Letter x={674} y={241}>b</Letter>
      <Letter x={673} y={563}>c</Letter>
      <Letter x={1068} y={560}>d</Letter>
      <Letter x={10} y={800}>e</Letter>
      <Letter x={7} y={1405}>f</Letter>
      <Letter x={673} y={990}>g</Letter>
      <Letter x={1068} y={990}>h</Letter>
      <Letter x={645.5} y={1405}>i</Letter>
      <Letter x={1051} y={1409}>j</Letter>

      <ChartBox x={720} y={245} w={600} h={290} config={bConfig} />
      <T x={700} y={377} rot={-90} size={22} font={SANS}>Q value</T>

      <Table L={[746, 932.6, 942.6, 1017, 576.7, 851.7, 888.3, 919]} values={C_VALUES} totals={C_TOTALS} bottom={C_BOTTOM} bottomColors={['#8fb1fb', '#b3c9fb']} cols={C_COLS} under="pT" titleX={881} title={<><i>P</i> = 0.023</>} tones={[15, 100]} totalTones={[15, 30]} lastShift={4} />
      <Table L={[1105, 1294, 1300, 1376, 576.7, 851.7, 888.3, 919]} values={D_VALUES} totals={D_TOTALS} bottom={D_BOTTOM} bottomColors={['#85adfb', '#c3d4fc']} cols={D_COLS} under="IDC/CA" titleX={1240} title={<><i>P</i> = 0.04</>} tones={[15, 100]} totalTones={[14, 28]} />
      <Table L={[746, 950, 956, 1017, 1011, 1281.3, 1317.7, 1348.3]} values={G_VALUES} totals={G_TOTALS} bottom={G_BOTTOM} bottomColors={['#4f93f8', '#e9eefd']} cols={YESNO} under={<>Gain <i>YTHDF1</i></>} titleX={880} title={<><i>P</i> = 2.09 × 10<Sup>−9</Sup></>} tones={[15, 30]} totalTones={[15, 30]} />
      <Table L={[1105, 1309, 1314.7, 1376, 1011, 1281.3, 1317.7, 1348.3]} values={H_VALUES} totals={H_TOTALS} bottom={H_BOTTOM} bottomColors={['#6aa0f9', '#d5e2fb']} cols={YESNO} under={<>Loss <i>FANCA</i></>} titleX={1240} title={<><i>P</i> = 3.73 × 10<Sup>−3</Sup></>} tones={[15, 30]} totalTones={[15, 30]} />

      <ChartBox x={70} y={820} w={550} h={460} config={eConfig} />
      <T x={45} y={1033} rot={-90} size={23.6} font={SANS}>Biochemical relapse-free rate</T>
      <T x={365} y={1290} size={22.6}>Time (years)</T>
      {E_LEGEND.map((p, i) => {
        const y = [1130.5, 1152.6, 1174.3, 1196.7, 1219][i];
        const c = [KM_COLORS.p1, KM_COLORS.p2, KM_COLORS.p3, KM_COLORS.p4, KM_COLORS.p5][i];
        return (
          <React.Fragment key={p}>
            <T x={134.7} y={y} a="l" size={21.5}>{p}</T>
            <Line x0={192} x1={210} y={y - 1} c={c} t={2} />
            <T x={221.6} y={y} a="l" size={23.7}><i>n</i> {E_LEGEND_N[i]}{E_LEGEND_P[i] && <i>P</i>}{E_LEGEND_P[i]}</T>
          </React.Fragment>
        );
      })}

      <ChartBox x={30} y={1400} w={590} h={435} config={fConfig} />
      <T x={11.5} y={1531} rot={-90} size={22} font={SANS}>Q value</T>

      <ChartBox x={660} y={1420} w={360} h={344.4} config={iConfig} />
      <T x={653} y={1571.7} rot={-90} size={21} font={SANS}>pISUP</T>
      <T x={876} y={1773} size={24}><i>BORCS6</i> m<Sup>6</Sup>A abundance</T>
      <T x={1014.8} y={1698} a="r" size={22}><i>P</i> = 4.34 × 10<Sup>−6</Sup></T>

      <ChartBox x={1080} y={1420} w={360} h={344.7} config={jConfig} />
      <T x={1057.7} y={1571.7} rot={-90} size={22} font={SANS}>IDC/CA</T>
      <T x={1280} y={1773} size={24}><i>IWS1</i> m<Sup>6</Sup>A abundance</T>
      <T x={1418} y={1701.7} a="r" size={22}><i>P</i> = 2.54 × 10<Sup>−5</Sup></T>

      <T x={1165} y={1777} size={42} font='"Noto Sans CJK SC", sans-serif' weight={400} color="rgba(185,185,185,0.9)" extra={{ WebkitTextStroke: '2.5px #fff', paintOrder: 'stroke fill' }}>知乎 @深圳市易基因科技</T>
    </div>
  );
}
